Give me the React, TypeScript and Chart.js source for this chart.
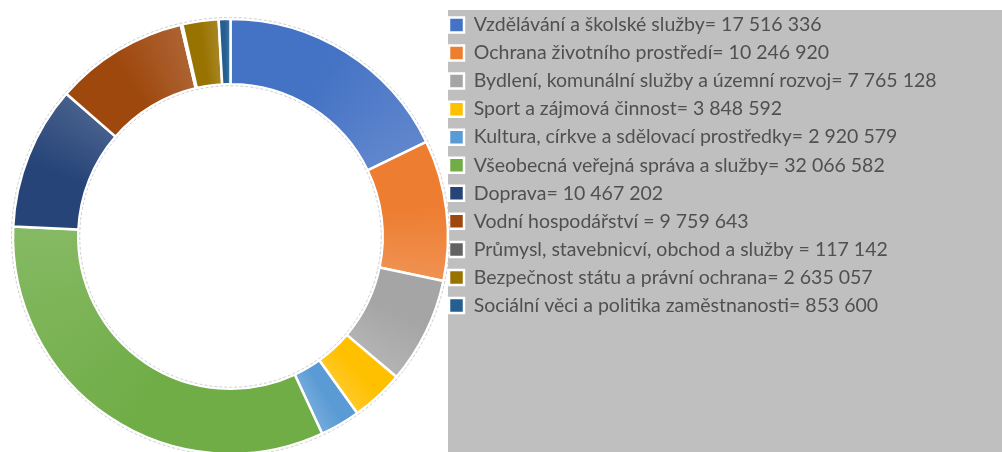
import React, { useEffect, useRef } from 'react';
import { Chart, registerables } from 'chart.js';

Chart.register(...registerables);

const categories = [
  'Vzdělávání a školské služby',
  'Ochrana životního prostředí',
  'Bydlení, komunální služby a územní rozvoj',
  'Sport a zájmová činnost',
  'Kultura, církve a sdělovací prostředky',
  'Všeobecná veřejná správa a služby',
  'Doprava',
  'Vodní hospodářství ',
  'Průmysl, stavebnicví, obchod a služby ',
  'Bezpečnost státu a právní ochrana',
  'Sociální věci a politika zaměstnanosti',
];

const values = [
  17516336, 10246920, 7765128, 3848592, 2920579, 32066582, 10467202, 9759643, 117142, 2635057, 853600,
];

const colors = [
  '#4472C4', '#ED7D31', '#A5A5A5', '#FFC000', '#5B9BD5', '#70AD47',
  '#264478', '#9E480E', '#636363', '#997300', '#255E91',
];

const fmt = (v: number) => String(v).replace(/\B(?=(\d{3})+(?!\d))/g, ' ');

const lighten = (hex: string, t: number) => {
  const n = parseInt(hex.slice(1), 16);
  const r = (n >> 16) & 255;
  const g = (n >> 8) & 255;
  const b = n & 255;
  const f = (c: number) => Math.round(c + (255 - c) * t);
  return `rgb(${f(r)},${f(g)},${f(b)})`;
};

export default function App() {
  const ref = useRef<HTMLCanvasElement>(null);

  useEffect(() => {
    if (!ref.current) return;
    const W = 1002;
    const H = 480;
    const F = 19.5;
    const family = 'Lato';
    const P = 1;
    const boxW = 15;
    const legendLeft = 448;
    const rowStep = 28.05;
    const texts = categories.map((c, i) => `${c}= ${fmt(values[i])}`);
    const m = document.createElement('canvas').getContext('2d')!;
    m.font = `normal ${F}px ${family}`;
    const maxW = Math.max(...texts.map((t) => m.measureText(t).width));
    const legendWidth = P + boxW + F / 2 + maxW + 10;
    const padRight = W - legendLeft - legendWidth;
    const padTop = 25 - F / 2 - P;
    const padBottom = padTop + H - 2 * 236.5;

    const total = values.reduce((a, b) => a + b, 0);

    const sliceFill = (c: any) => {
      const i = c.dataIndex;
      const chart = c.chart;
      const area = chart.chartArea;
      if (!area || typeof chart.ctx.createConicGradient !== 'function') return colors[i];
      const cx = (area.left + area.right) / 2;
      const cy = (area.top + area.bottom) / 2;
      let before = 0;
      for (let k = 0; k < i; k++) before += values[k];
      const a0 = -Math.PI / 2 + (before / total) * Math.PI * 2;
      const frac = values[i] / total;
      const g = chart.ctx.createConicGradient(a0, cx, cy);
      g.addColorStop(0, colors[i]);
      g.addColorStop(Math.min(frac * 0.45, 0.999), colors[i]);
      g.addColorStop(Math.min(frac, 1), lighten(colors[i], 0.15));
      return g;
    };

    const bgPlugin = {
      id: 'legendBg',
      beforeDraw(chart: any) {
        const ctx = chart.ctx;
        ctx.save();
        ctx.fillStyle = '#BFBFBF';
        ctx.fillRect(chart.legend.left, 10, chart.width - chart.legend.left, chart.height);
        ctx.restore();
      },
    };

    const outlinePlugin = {
      id: 'ringOutline',
      afterDatasetsDraw(chart: any) {
        const arc = chart.getDatasetMeta(0).data[0];
        if (!arc) return;
        const { x, y, outerRadius, innerRadius } = arc.getProps(['x', 'y', 'outerRadius', 'innerRadius'], true);
        const ctx = chart.ctx;
        ctx.save();
        ctx.strokeStyle = '#cccccc';
        ctx.lineWidth = 1;
        ctx.setLineDash([3, 2]);
        ctx.beginPath();
        ctx.arc(x, y, outerRadius + 1.5, 0, Math.PI * 2);
        ctx.stroke();
        ctx.beginPath();
        ctx.arc(x, y, innerRadius - 1.5, 0, Math.PI * 2);
        ctx.stroke();
        ctx.restore();
      },
    };

    const chart = new Chart(ref.current, {
      type: 'doughnut',
      data: {
        labels: categories,
        datasets: [
          {
            data: values,
            backgroundColor: sliceFill,
            borderColor: '#ffffff',
            borderWidth: 2.5,
            radius: 217.5,
            cutout: '70%',
          } as any,
        ],
      },
      options: {
        responsive: false,
        animation: false,
        devicePixelRatio: 1,
        layout: { padding: { left: 13, top: padTop, bottom: padBottom, right: padRight } },
        plugins: {
          tooltip: { enabled: false },
          legend: {
            position: 'right',
            align: 'start',
            maxWidth: 700,
            labels: {
              boxWidth: boxW,
              boxHeight: boxW,
              padding: P,
              color: '#505050',
              font: { family, size: F, lineHeight: (rowStep - P) / F },
              generateLabels: (ch: any) => {
                const items = (Chart as any).overrides.doughnut.plugins.legend.labels.generateLabels(ch);
                return items.map((it: any, i: number) => ({
                  ...it,
                  text: [texts[i]],
                  fillStyle: colors[i],
                  strokeStyle: '#ffffff',
                  lineWidth: 2.5,
                }));
              },
            },
          },
        },
      },
      plugins: [bgPlugin, outlinePlugin],
    });
    return () => chart.destroy();
  }, []);

  return (
    <div style={{ position: 'fixed', left: 0, top: 0, width: 1002, height: 480, background: '#ffffff' }}>
      <canvas ref={ref} width={1002} height={480} style={{ display: 'block' }} />
    </div>
  );
}
